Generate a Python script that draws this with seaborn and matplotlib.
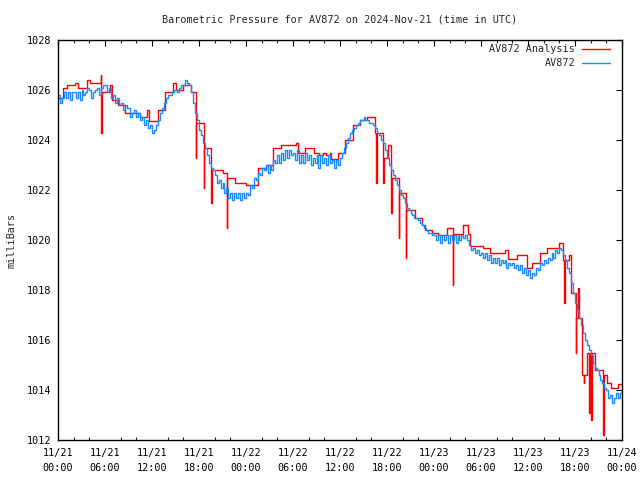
import numpy as np
import pandas as pd
import matplotlib
matplotlib.use("Agg")
import matplotlib.pyplot as plt
import seaborn as sns
from matplotlib.ticker import MultipleLocator

# ---------------- data (hours since 2024-11-21 00:00 UTC) ----------------
# AV872 observations, every 15 minutes
blue_step_hours = 0.25
blue_vals = [
    1025.8, 1025.5, 1025.7, 1025.9, 1025.7, 1025.9, 1025.6, 1025.9,
    1025.9, 1025.7, 1025.9, 1025.6, 1026.0, 1025.8, 1025.9, 1026.1,
    1026.0, 1025.7, 1025.9, 1026.0, 1026.1, 1025.8, 1026.1, 1026.2,
    1026.2, 1025.9, 1026.1, 1025.7, 1025.8, 1025.5, 1025.7, 1025.4,
    1025.5, 1025.2, 1025.4, 1025.3, 1025.3, 1024.9, 1025.1, 1025.2,
    1024.9, 1025.1, 1024.8, 1024.9, 1024.6, 1024.8, 1024.5, 1024.6,
    1024.3, 1024.4, 1024.6, 1024.8, 1025.1, 1025.3, 1025.5, 1025.7,
    1025.8, 1025.8, 1025.9, 1026.0, 1026.0, 1025.9, 1026.1, 1026.2,
    1026.2, 1026.4, 1026.3, 1026.2, 1025.9, 1025.5, 1025.1, 1024.8,
    1024.4, 1024.2, 1023.9, 1023.7, 1023.4, 1023.1, 1022.9, 1022.8,
    1022.6, 1022.3, 1022.4, 1022.1, 1022.3, 1021.9, 1022.1, 1021.7,
    1021.9, 1021.6, 1021.9, 1021.7, 1021.9, 1021.6, 1021.9, 1021.7,
    1021.9, 1021.8, 1022.2, 1022.1, 1022.5, 1022.4, 1022.7, 1022.6,
    1022.9, 1022.8, 1023.0, 1022.7, 1023.0, 1022.8, 1023.2, 1023.1,
    1023.4, 1023.1, 1023.5, 1023.2, 1023.6, 1023.3, 1023.6, 1023.4,
    1023.5, 1023.2, 1023.6, 1023.1, 1023.4, 1023.1, 1023.5, 1023.2,
    1023.4, 1023.0, 1023.3, 1023.1, 1023.4, 1022.9, 1023.4, 1023.1,
    1023.3, 1023.0, 1023.4, 1023.1, 1023.2, 1022.9, 1023.2, 1023.0,
    1023.3, 1023.5, 1023.7, 1023.9, 1024.1, 1024.3, 1024.4, 1024.5,
    1024.6, 1024.7, 1024.8, 1024.8, 1024.9, 1024.8, 1024.8, 1024.7,
    1024.7, 1024.6, 1024.5, 1024.3, 1024.2, 1024.0, 1023.9, 1023.6,
    1023.3, 1023.0, 1022.8, 1022.6, 1022.4, 1022.2, 1022.0, 1021.8,
    1021.7, 1021.5, 1021.3, 1021.2, 1021.1, 1021.0, 1020.9, 1020.9,
    1020.8, 1020.7, 1020.6, 1020.5, 1020.4, 1020.3, 1020.3, 1020.2,
    1020.2, 1020.0, 1020.2, 1019.9, 1020.2, 1020.0, 1020.2, 1019.9,
    1020.2, 1020.0, 1020.2, 1019.9, 1020.2, 1020.0, 1020.2, 1020.1,
    1020.2, 1020.0, 1019.8, 1019.6, 1019.7, 1019.5, 1019.6, 1019.4,
    1019.5, 1019.3, 1019.5, 1019.2, 1019.4, 1019.1, 1019.3, 1019.1,
    1019.3, 1019.0, 1019.2, 1019.1, 1019.2, 1018.9, 1019.1, 1019.0,
    1019.1, 1018.9, 1019.0, 1018.8, 1019.0, 1018.7, 1018.9, 1018.6,
    1018.8, 1018.5, 1018.7, 1018.6, 1018.9, 1018.8, 1019.1, 1019.0,
    1019.2, 1019.1, 1019.3, 1019.2, 1019.5, 1019.3, 1019.6, 1019.5,
    1019.7, 1019.6, 1019.4, 1019.2, 1018.9, 1018.7, 1018.3, 1017.9,
    1017.5, 1017.2, 1016.9, 1016.6, 1016.3, 1016.0, 1015.8, 1015.6,
    1015.4, 1015.1, 1014.9, 1014.8, 1014.6, 1014.4, 1014.3, 1014.1,
    1014.0, 1013.7, 1013.8, 1013.5, 1013.7, 1013.9, 1013.7, 1013.9,
    1014.0,
]
blue_hours = [i * blue_step_hours for i in range(len(blue_vals))]

# AV872 Analysis (step changes, including short spikes)
red_hours = [
    0.0, 0.6, 1.2, 2.2, 2.6, 3.7, 4.1, 5.50, 5.55, 5.62, 6.7, 6.9, 7.7, 8.6,
    10.5, 11.4, 11.6, 12.8, 13.7, 14.7, 15.1, 16.0, 17.0, 17.6, 17.68, 18.6,
    18.68, 19.55, 19.62, 21.0, 21.55, 21.62, 22.6, 24.0, 25.5, 26.5, 27.5,
    28.5, 30.4, 30.6, 31.5, 32.7, 33.3, 33.8, 34.2, 34.7, 34.9, 35.8, 36.6,
    37.6, 38.5, 39.5, 40.5, 40.6, 40.68, 41.5, 41.58, 42.1, 42.5, 42.58,
    43.5, 43.58, 44.4, 44.48, 45.6, 46.5, 46.9, 47.7, 48.5, 49.7, 50.4,
    50.48, 51.7, 52.3, 52.6, 54.3, 55.2, 57.1, 57.4, 58.6, 59.9, 60.5, 61.5,
    62.4, 64.0, 64.5, 64.65, 64.72, 65.2, 65.5, 66.1, 66.18, 66.4, 66.48,
    66.9, 67.1, 67.18, 67.5, 67.8, 67.88, 68.1, 68.18, 68.6, 69.6, 69.68,
    70.1, 70.6, 71.5, 72.0,
]
red_vals = [
    1025.7, 1026.1, 1026.2, 1026.3, 1026.1, 1026.4, 1026.3, 1026.6, 1024.3,
    1025.9, 1026.2, 1025.6, 1025.4, 1025.1, 1024.9, 1025.2, 1024.75, 1025.2,
    1025.9, 1026.3, 1026.0, 1026.2, 1025.9, 1023.3, 1024.7, 1022.1, 1023.7,
    1021.5, 1022.8, 1022.7, 1020.5, 1022.5, 1022.3, 1022.2, 1022.9, 1023.0,
    1023.7, 1023.8, 1023.9, 1023.5, 1023.7, 1023.5, 1023.4, 1023.5, 1023.4,
    1023.5, 1023.25, 1023.5, 1024.0, 1024.6, 1024.8, 1024.9, 1024.3, 1022.3,
    1024.3, 1022.3, 1023.3, 1023.8, 1021.1, 1022.5, 1020.1, 1021.9, 1019.3,
    1021.2, 1020.9, 1020.6, 1020.4, 1020.3, 1020.2, 1020.5, 1018.2, 1020.25,
    1020.6, 1020.25, 1019.75, 1019.7, 1019.5, 1019.6, 1019.25, 1019.4,
    1018.9, 1019.1, 1019.5, 1019.7, 1019.9, 1019.2, 1017.5, 1019.2, 1019.4,
    1017.9, 1015.5, 1016.9, 1018.1, 1016.9, 1014.6, 1014.3, 1014.6, 1015.5,
    1013.1, 1015.5, 1012.8, 1015.5, 1014.8, 1012.2, 1014.6, 1014.3, 1014.1,
    1014.25, 1014.25,
]

xtick_hours = [0, 6, 12, 18, 24, 30, 36, 42, 48, 54, 60, 66, 72]
xtick_labels = ["11/21\n00:00", "11/21\n06:00", "11/21\n12:00", "11/21\n18:00",
                "11/22\n00:00", "11/22\n06:00", "11/22\n12:00", "11/22\n18:00",
                "11/23\n00:00", "11/23\n06:00", "11/23\n12:00", "11/23\n18:00",
                "11/24\n00:00"]
yticks = [1012, 1014, 1016, 1018, 1020, 1022, 1024, 1026, 1028]

title = "Barometric Pressure for AV872 on 2024-Nov-21 (time in UTC)"
ylabel = "milliBars"
series_names = ["AV872 Analysis", "AV872"]
red_color = "#ff0000"
blue_color = "#1a8cff"

# ---------------- plotting ----------------
sns.set_theme(style="white")
plt.rcParams["font.family"] = ["DejaVu Sans Mono"]
FS = 7.3
plt.rcParams["font.size"] = FS

fig = plt.figure(figsize=(6.4, 4.8), dpi=100)
ax = fig.add_axes([58 / 640, 40 / 480, (622 - 58) / 640, (440 - 40) / 480])

red_df = pd.DataFrame({"t": red_hours, "p": red_vals})
blue_df = pd.DataFrame({"t": blue_hours, "p": blue_vals})

sns.lineplot(data=red_df, x="t", y="p", ax=ax, color=red_color, lw=1.0,
             drawstyle="steps-post", estimator=None, sort=False)
sns.lineplot(data=blue_df, x="t", y="p", ax=ax, color=blue_color, lw=1.0,
             drawstyle="steps-post", estimator=None, sort=False)

ax.set_xlim(0, 72)
ax.set_ylim(1012, 1028)
ax.set_xticks(xtick_hours)
ax.set_xticklabels(xtick_labels, linespacing=1.6)
ax.xaxis.set_minor_locator(MultipleLocator(2))
ax.set_yticks(yticks)
ax.set_yticklabels([str(v) for v in yticks])
ax.set_xlabel("")
ax.set_ylabel("")

for s in ax.spines.values():
    s.set_visible(True)
    s.set_color("black")
    s.set_linewidth(1.0)

ax.tick_params(axis="both", which="major", direction="in", length=4.5, width=0.8,
               top=True, right=True, colors="black", labelsize=FS)
ax.tick_params(axis="x", which="major", pad=6)
ax.tick_params(axis="y", which="major", pad=5)
ax.tick_params(axis="x", which="minor", direction="in", length=2.2, width=0.8,
               top=True, bottom=True)
ax.grid(False)

fig.text(340 / 640, 1 - 20 / 480, title, ha="center", va="center", fontsize=FS)
fig.text(12 / 640, 0.5, ylabel, rotation=90, ha="center", va="center", fontsize=FS)

# legend (gnuplot style: right-aligned text, sample line to the right)
for i, (name, col) in enumerate(zip(series_names, [red_color, blue_color])):
    yy = 1 - (49 + 14 * i - 40) / 400
    ax.text((575 - 58) / 564, yy, name, transform=ax.transAxes,
            ha="right", va="center", fontsize=FS)
    ax.plot([(582 - 58) / 564, (610 - 58) / 564], [yy, yy],
            transform=ax.transAxes, color=col, lw=1.0)

fig.savefig("out.png", dpi=100, facecolor="white")
